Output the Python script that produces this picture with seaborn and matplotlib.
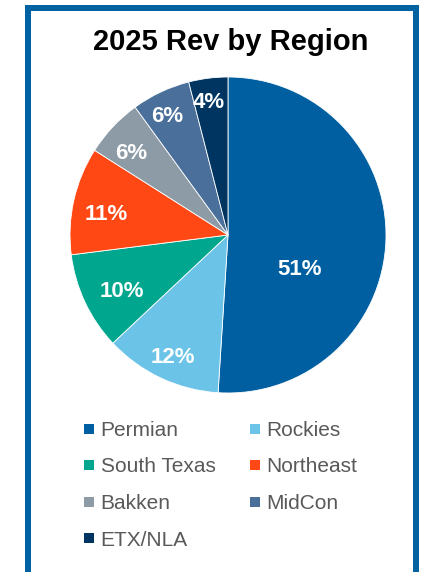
import matplotlib
matplotlib.use("Agg")
import matplotlib.pyplot as plt
from matplotlib.lines import Line2D
import numpy as np
import seaborn as sns

# Revenue share by region, 2025 (percent)
regions = ["Permian", "Rockies", "South Texas", "Northeast", "Bakken", "MidCon", "ETX/NLA"]
revenue_share = [51, 12, 10, 11, 6, 6, 4]
region_colors = ["#005FA1", "#6BC4E8", "#00A78E", "#FF4814", "#8D9BA6", "#4A6F9B", "#003561"]
chart_title = "2025 Rev by Region"

# Where each percentage label sits: fraction of the radius, and a small
# angular nudge (degrees) away from the wedge's mid-angle
label_radius = [0.50, 0.85, 0.76, 0.78, 0.80, 0.84, 0.85]
label_angle_shift = [-24, 1, 3, 3, 3, 2, 1]

sns.set_theme(style="white")
plt.rcParams["font.family"] = ["Liberation Sans", "DejaVu Sans"]

W, H = 428, 572
fig = plt.figure(figsize=(W / 100, H / 100), dpi=100)
fig.patch.set_facecolor("white")

# Pie axes: square box centred on the pie
cx, cy, R = 228, 235, 158
ax = fig.add_axes([(cx - R) / W, (H - cy - R) / H, 2 * R / W, 2 * R / H])
palette = sns.color_palette(region_colors)
wedges, _ = ax.pie(
    revenue_share,
    colors=palette,
    startangle=90,
    counterclock=False,
    radius=1,
    wedgeprops=dict(edgecolor="white", linewidth=0.6),
)
ax.set_xlim(-1, 1)
ax.set_ylim(-1, 1)
ax.set_aspect("equal")
ax.axis("off")

for w, v, r, s in zip(wedges, revenue_share, label_radius, label_angle_shift):
    ang = np.deg2rad((w.theta1 + w.theta2) / 2 + s)
    ax.text(r * np.cos(ang), r * np.sin(ang), f"{v}%", ha="center", va="center",
            color="white", fontsize=16, fontweight="bold")

# Title
fig.text(230.5 / W, 1 - 50 / H, chart_title, ha="center", va="baseline",
         fontsize=21, fontweight="bold", color="black")

# Legend laid out row by row in two columns
order = [0, 2, 4, 6, 1, 3, 5]
handles = [Line2D([], [], marker="s", ls="", markersize=7.9, markeredgewidth=0,
                  color=palette[i]) for i in order]
labels = [regions[i] for i in order]
fig.legend(handles, labels, loc="upper left", bbox_to_anchor=(83 / W, 1 - 421 / H),
           bbox_transform=fig.transFigure, ncol=2, frameon=False, fontsize=15,
           labelcolor="#595959", handlelength=0.6, handletextpad=0.25,
           columnspacing=1.6, labelspacing=0.84, borderpad=0, borderaxespad=0)

# Blue frame open at the bottom
frame_x = [28 / W, 28 / W, 416 / W, 416 / W]
frame_y = [-0.01, 1 - 8 / H, 1 - 8 / H, -0.01]
fig.add_artist(Line2D(frame_x, frame_y, transform=fig.transFigure, color="#0061A3",
                      lw=6 * 0.72, solid_joinstyle="miter"))

fig.savefig("out.png", dpi=100)
